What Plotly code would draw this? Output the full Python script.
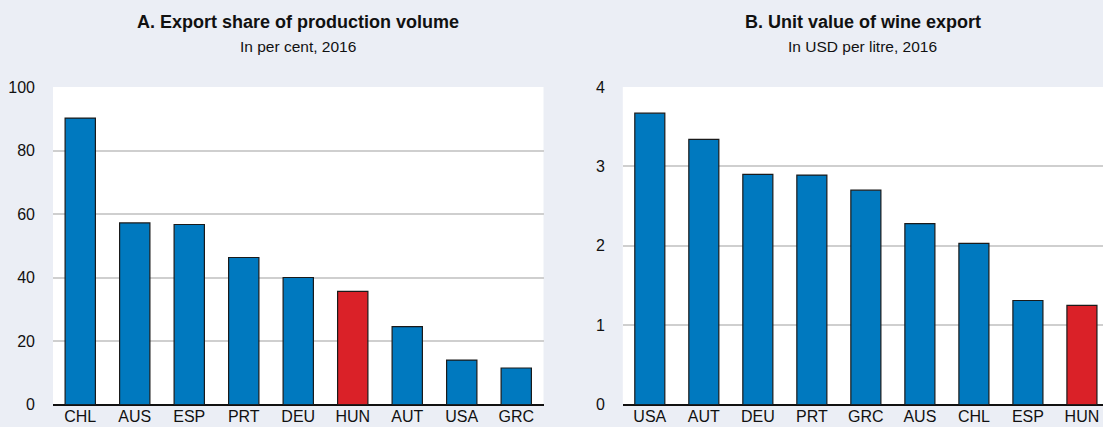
import plotly.graph_objects as go
from plotly.subplots import make_subplots

# Panel A: export share of production volume, per cent, 2016
countries_a = ["CHL", "AUS", "ESP", "PRT", "DEU", "HUN", "AUT", "USA", "GRC"]
share_a = [90.2, 57.2, 56.7, 46.3, 40.0, 35.6, 24.5, 14.0, 11.5]

# Panel B: unit value of wine export, USD per litre, 2016
countries_b = ["USA", "AUT", "DEU", "PRT", "GRC", "AUS", "CHL", "ESP", "HUN"]
value_b = [3.67, 3.34, 2.90, 2.89, 2.70, 2.28, 2.03, 1.31, 1.25]

BLUE = "#0079BF"
RED = "#DA2128"
BG = "#EBEEF5"
FONT = "Liberation Sans, Arial, sans-serif"
HIGHLIGHT = "HUN"


def bar_colors(cats):
    return [RED if c == HIGHLIGHT else BLUE for c in cats]


W, H = 1103, 427
fig = make_subplots(rows=1, cols=2)

fig.add_trace(go.Bar(x=countries_a, y=share_a, marker=dict(color=bar_colors(countries_a),
                     line=dict(color="#1a1a1a", width=1.2)), width=0.556, showlegend=False),
              row=1, col=1)
fig.add_trace(go.Bar(x=countries_b, y=value_b, marker=dict(color=bar_colors(countries_b),
                     line=dict(color="#1a1a1a", width=1.2)), width=0.556, showlegend=False),
              row=1, col=2)

y_bottom = (H - 404.5) / H
y_top = (H - 87) / H

tick_font = dict(family=FONT, size=16, color="#111")
common_x = dict(showgrid=False, ticks="", tickfont=tick_font,
                showline=False, fixedrange=True, ticklabelstandoff=0, automargin=False)
common_y = dict(showgrid=True, gridcolor="#CFCFCF", gridwidth=1.5, zeroline=True,
                zerolinecolor="#111", zerolinewidth=1.5, ticks="",
                tickfont=tick_font, showline=False,
                ticklabelstandoff=17, fixedrange=True, automargin=False)

fig.update_xaxes(**common_x, domain=[53 / W, 543.5 / W], range=[-0.5, 8.5], row=1, col=1)
fig.update_xaxes(**common_x, domain=[622.8 / W, 1.0], range=[-0.5, 8.39], row=1, col=2)
fig.update_yaxes(**common_y, domain=[y_bottom, y_top], range=[0, 100], tickvals=[0, 20, 40, 60, 80, 100],
                 row=1, col=1)
fig.update_yaxes(**common_y, domain=[y_bottom, y_top], range=[0, 4], tickvals=[0, 1, 2, 3, 4],
                 row=1, col=2)

titles = [
    ((53 + 543.5) / 2 / W, "<b>A. Export share of production volume</b>", "In per cent, 2016"),
    ((622.8 + 1103) / 2 / W, "<b>B. Unit value of wine export</b>", "In USD per litre, 2016"),
]
for xc, title, sub in titles:
    fig.add_annotation(x=xc, y=1 - 34 / H, xref="paper", yref="paper", text=title, showarrow=False,
                       xanchor="center", yanchor="bottom", font=dict(family=FONT, size=18, color="#111"))
    fig.add_annotation(x=xc, y=1 - 57 / H, xref="paper", yref="paper", text=sub, showarrow=False,
                       xanchor="center", yanchor="bottom", font=dict(family=FONT, size=15.5, color="#111"))

fig.update_layout(width=W, height=H, margin=dict(l=0, r=0, t=0, b=0), paper_bgcolor=BG,
                  plot_bgcolor="white", bargap=0.444, font=dict(family=FONT))

fig.write_html("out.html", config={"displayModeBar": False},
               post_script="document.body.style.margin='0';document.body.style.overflow='hidden';")
